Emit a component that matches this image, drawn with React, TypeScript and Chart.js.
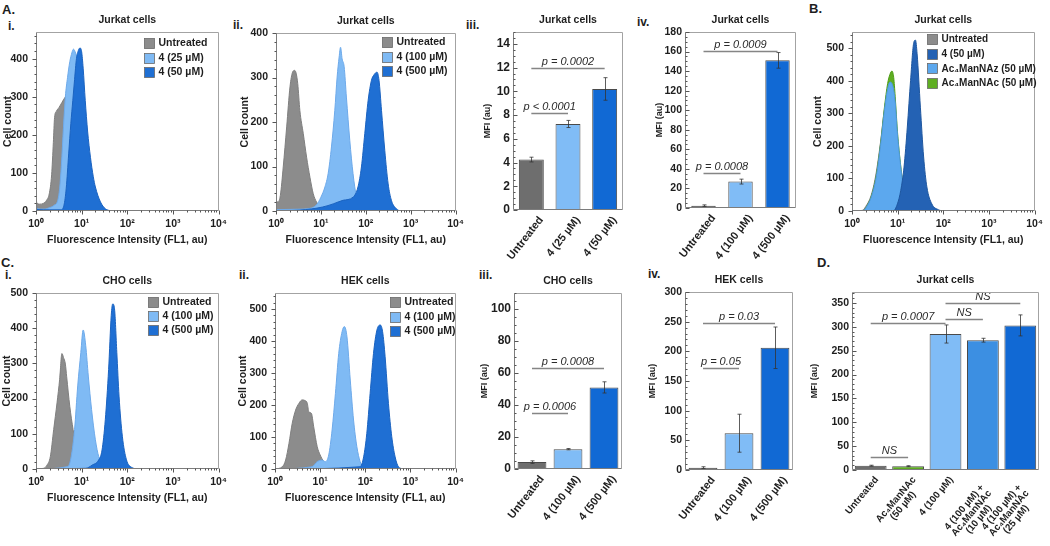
import React, { useEffect, useRef } from 'react';
import { Chart, registerables } from 'chart.js';

Chart.register(...registerables);

type Pt = [number, number];
type Sig = [number, number, number, string];

const FONT = "'Liberation Sans', Arial, Helvetica, sans-serif";
const INK = '#1e1e1e';

// ---------- shared axis texts ----------
const histYTitle = 'Cell count';
const histXTitle = 'Fluorescence Intensity (FL1, au)';
const barYTitle = 'MFI (au)';
const logTickValues = [1, 10, 100, 1000, 10000];
const logTickLabels = ['10⁰', '10¹', '10²', '10³', '10⁴'];

// ---------- A.i (Jurkat, histogram) ----------
const aiTitle = 'Jurkat cells';
const aiLabels = ['Untreated', '4 (25 µM)', '4 (50 µM)'];
const aiUntreated: Pt[] = [[1, 40], [1.04, 22], [1.2, 18], [1.45, 20], [1.7, 28], [1.95, 45], [2.2, 95], [2.4, 180], [2.55, 245], [2.8, 262], [3.2, 272], [3.7, 285], [4.3, 298], [4.9, 305], [5.8, 285], [7, 230], [8.5, 160], [10.5, 90], [13, 40], [17, 12], [24, 0]];
const ai25uM: Pt[] = [[1, 30], [1.04, 6], [1.5, 5], [2, 9], [2.5, 15], [3, 28], [3.3, 60], [3.6, 120], [4, 220], [4.4, 300], [4.9, 350], [5.5, 392], [6.1, 415], [6.6, 425], [7.2, 418], [8, 398], [9, 345], [10.3, 265], [12, 180], [14, 110], [17, 55], [22, 18], [30, 4], [40, 0]];
const ai50uM: Pt[] = [[1, 70], [1.04, 4], [2, 3], [3.5, 3], [4.1, 15], [4.6, 60], [5.2, 150], [5.8, 230], [6.4, 290], [7, 345], [7.7, 400], [8.5, 422], [9.2, 428], [10, 418], [10.8, 375], [12, 290], [13.5, 210], [15.6, 141], [18, 90], [20, 63], [25.8, 24], [33, 6], [45, 0]];

// ---------- A.ii (Jurkat, histogram) ----------
const aiiTitle = 'Jurkat cells';
const aiiLabels = ['Untreated', '4 (100 µM)', '4 (500 µM)'];
const aiiUntreated: Pt[] = [[1, 25], [1.1, 20], [1.25, 35], [1.45, 99], [1.73, 189], [2.05, 279], [2.34, 312], [2.6, 316], [2.8, 310], [3.05, 286], [3.4, 226], [4.05, 174], [4.8, 121], [5.7, 76], [6.75, 39], [8, 20], [9.5, 9], [12, 2], [15, 0]];
const aii100uM: Pt[] = [[1, 3], [3, 4], [5.7, 6], [8, 14], [10, 31], [12.3, 54], [14.5, 84], [17.2, 144], [20.4, 226], [23, 301], [25.5, 346], [27.4, 368], [29.7, 342], [33, 324], [37, 256], [44, 159], [52, 84], [62, 31], [73, 6], [85, 0]];
const aii500uM: Pt[] = [[1, 0], [3.4, 2], [11, 9], [18.8, 16], [31, 24], [52, 31], [67, 54], [80, 99], [95, 174], [113, 249], [134, 294], [150, 305], [178, 312], [197, 294], [224, 226], [265, 136], [315, 61], [372, 24], [480, 5], [570, 0]];

// ---------- A.iii (Jurkat, MFI) ----------
const aiiiTitle = 'Jurkat cells';
const aiiiCategories = ['Untreated', '4 (25 µM)', '4 (50 µM)'];
const aiiiMeans = [4.25, 7.25, 10.2];
const aiiiErrors = [0.2, 0.3, 0.95];
const aiiiSig: Sig[] = [[0, 1, 8.2, 'p < 0.0001'], [0, 2, 12.0, 'p = 0.0002']];

// ---------- A.iv (Jurkat, MFI) ----------
const aivTitle = 'Jurkat cells';
const aivCategories = ['Untreated', '4 (100 µM)', '4 (500 µM)'];
const aivMeans = [2.4, 27, 151];
const aivErrors = [0.8, 2.5, 8];
const aivSig: Sig[] = [[0, 1, 36, 'p = 0.0008'], [0, 2, 161, 'p = 0.0009']];

// ---------- B (Jurkat, histogram) ----------
const bTitle = 'Jurkat cells';
const bLabels = ['Untreated', '4 (50 µM)', 'Ac₄ManNAz (50 µM)', 'Ac₄ManNAc (50 µM)'];
const bUntreated: Pt[] = [[1, 0], [1.7, 2], [2.0, 14], [2.6, 46], [3.3, 108], [4.25, 215], [5.0, 300], [5.9, 362], [6.7, 383], [7.4, 378], [8.7, 318], [9.8, 222], [11.6, 122], [13.7, 56], [17.5, 17], [22.6, 5], [29, 0]];
const b50uM: Pt[] = [[1, 0], [8, 0], [9.9, 22], [11.7, 63], [13.8, 135], [16.3, 258], [19.2, 401], [22.6, 518], [24.6, 525], [26.7, 483], [31.5, 319], [37.1, 166], [43.7, 74], [56, 22], [78, 4], [100, 0]];
const bManNAz: Pt[] = [[1, 0], [1.8, 2], [2.07, 12], [2.65, 43], [3.39, 104], [4.35, 217], [5.13, 309], [6.04, 375], [6.79, 396], [7.5, 392], [8.84, 335], [9.9, 237], [11.7, 135], [13.8, 63], [17.7, 22], [22.6, 7], [29, 0]];
const bManNAc: Pt[] = [[1, 0], [1.8, 2], [2.07, 13], [2.65, 45], [3.39, 108], [4.35, 222], [5.13, 318], [6.04, 392], [6.79, 420], [7.5, 430], [8.2, 410], [8.84, 352], [9.9, 245], [11.7, 138], [13.8, 64], [17.7, 22], [22.6, 7], [29, 0]];

// ---------- C.i (CHO, histogram) ----------
const ciTitle = 'CHO cells';
const ciLabels = ['Untreated', '4 (100 µM)', '4 (500 µM)'];
const ciUntreated: Pt[] = [[1, 0], [1.47, 2], [1.74, 11], [2.06, 35], [2.44, 112], [2.89, 188], [3.3, 255], [3.7, 328], [4.0, 317], [4.4, 298], [4.7, 262], [5.5, 178], [6.5, 112], [7.6, 64], [9, 31], [11.5, 7], [14.7, 0]];
const ci100uM: Pt[] = [[1, 0], [5, 7], [5.9, 35], [7, 112], [8.2, 236], [9.6, 331], [10.8, 395], [12.3, 350], [14, 264], [16.5, 169], [20, 83], [23.7, 35], [30, 7], [39, 0]];
const ci500uM: Pt[] = [[1, 0], [12.3, 2], [17, 11], [23.7, 26], [28, 54], [33, 140], [39, 283], [44.5, 436], [48, 469], [52.5, 455], [59, 331], [66, 207], [78, 93], [96, 26], [123, 5], [172, 0]];

// ---------- C.ii (HEK, histogram) ----------
const ciiTitle = 'HEK cells';
const ciiLabels = ['Untreated', '4 (100 µM)', '4 (500 µM)'];
const ciiUntreated: Pt[] = [[1, 0], [1.45, 7], [1.72, 28], [2.04, 80], [2.41, 143], [2.86, 184], [3.38, 205], [4.0, 216], [4.6, 214], [5.2, 205], [5.6, 179], [6.4, 174], [7.2, 132], [8.6, 70], [10, 44], [12, 23], [14.3, 7], [16.9, 0]];
const cii100uM: Pt[] = [[1, 0], [6.6, 7], [8.6, 23], [11, 28], [13, 23], [15.5, 44], [18.4, 122], [21.8, 236], [25.8, 361], [30.6, 429], [34.4, 445], [39.3, 413], [46.5, 278], [55, 153], [65, 70], [77, 23], [92, 5], [108, 0]];
const cii500uM: Pt[] = [[1, 0], [77, 7], [92, 38], [108, 111], [128, 236], [152, 361], [181, 434], [215, 450], [242, 429], [275, 351], [326, 205], [386, 101], [458, 38], [543, 7], [700, 0]];

// ---------- C.iii (CHO, MFI) ----------
const ciiiTitle = 'CHO cells';
const ciiiCategories = ['Untreated', '4 (100 µM)', '4 (500 µM)'];
const ciiiMeans = [4.3, 12.4, 51];
const ciiiErrors = [0.8, 0.4, 3.5];
const ciiiSig: Sig[] = [[0, 1, 35, 'p = 0.0006'], [0, 2, 63, 'p = 0.0008']];

// ---------- C.iv (HEK, MFI) ----------
const civTitle = 'HEK cells';
const civCategories = ['Untreated', '4 (100 µM)', '4 (500 µM)'];
const civMeans = [4, 62, 206];
const civErrors = [1.5, 32, 35];
const civSig: Sig[] = [[0, 1, 172, 'p = 0.05'], [0, 2, 248, 'p = 0.03']];

// ---------- D (Jurkat, MFI) ----------
const dTitle = 'Jurkat cells';
const dCategories = [['Untreated'], ['Ac₄ManNAc', '(50 µM)'], ['4 (100 µM)'], ['4 (100 µM) +', 'Ac₄ManNAc', '(10 µM)'], ['4 (100 µM) +', 'Ac₄ManNAc', '(25 µM)']];
const dMeans = [9, 8, 285, 272, 303];
const dErrors = [1, 1, 19, 4, 22];
const dSig: Sig[] = [[0, 1, 27, 'NS'], [0, 2, 309, 'p = 0.0007'], [2, 3, 317, 'NS'], [2, 4, 350, 'NS']];

// ---------- colours ----------
const COL = {
  grayH: '#8c8c8c', grayHLine: '#7f7f7f',
  light: '#7fbaf4', lightLine: '#6eaaea',
  dark: '#1f6fd3', darkLine: '#1b63c0',
  navy: '#2462b4', navyLine: '#1f579f',
  az: '#5ca8ee', azLine: '#509ae0',
  green: '#5fae22', greenLine: '#4f9c18',
  grayBar: '#6e6e6e', lightBar: '#80bcf6', darkBar: '#1169d4', medBar: '#3c8fe2', greenBar: '#5ba820',
};

// ---------- decoration plugin ----------
interface LegendItem { label: string; color: string }
interface XLabelOpts { cats: (string | string[])[]; size: number; angle: number; lh: number; ox: number; oy: number; multiShift: number }
interface Deco {
  title: string;
  inward: boolean;
  yStep: number;
  yMinor: number;
  logX?: boolean;
  legend?: { dx: number; dy: number; row: number; size: number; items: LegendItem[] };
  errors?: number[];
  sig?: Sig[];
  xLabels?: XLabelOpts;
}

function makeDeco(o: Deco) {
  return {
    id: 'deco',
    afterDatasetsDraw(chart: any) {
      const { ctx, chartArea: a, scales } = chart;
      const xs = scales.x;
      const ys = scales.y;
      const L = Math.round(a.left) + 0.5;
      const R = Math.round(a.right) - 0.5;
      const T = Math.round(a.top) + 0.5;
      const B = Math.round(a.bottom) - 0.5;
      const seg = (x1: number, y1: number, x2: number, y2: number) => {
        ctx.beginPath();
        ctx.moveTo(x1, y1);
        ctx.lineTo(x2, y2);
        ctx.stroke();
      };
      ctx.save();

      if (o.errors) {
        const meta = chart.getDatasetMeta(0);
        const vals = chart.data.datasets[0].data as number[];
        ctx.strokeStyle = '#333';
        ctx.lineWidth = 0.8;
        o.errors.forEach((e, i) => {
          const bx = Math.round(meta.data[i].x) + 0.5;
          const yt = ys.getPixelForValue(vals[i] + e);
          const yb = ys.getPixelForValue(Math.max(0, vals[i] - e));
          seg(bx, yt, bx, yb);
          seg(bx - 2, yt, bx + 2, yt);
          seg(bx - 2, yb, bx + 2, yb);
        });
      }

      if (o.sig) {
        const meta = chart.getDatasetMeta(0);
        o.sig.forEach(([i, j, v, text]) => {
          const x1 = meta.data[i].x;
          const x2 = meta.data[j].x;
          const py = Math.round(ys.getPixelForValue(v)) + 0.5;
          ctx.strokeStyle = '#858585';
          ctx.lineWidth = 1.4;
          seg(x1, py, x2, py);
          ctx.fillStyle = '#2a2a2a';
          ctx.font = `italic 11px ${FONT}`;
          ctx.textAlign = 'center';
          ctx.textBaseline = 'alphabetic';
          ctx.fillText(text, (x1 + x2) / 2, py - 4);
        });
      }

      // category labels (rotated, lines centred)
      if (o.xLabels) {
        const xl = o.xLabels;
        const meta = chart.getDatasetMeta(0);
        const rad = (xl.angle * Math.PI) / 180;
        ctx.fillStyle = INK;
        ctx.font = `bold ${xl.size}px ${FONT}`;
        ctx.textAlign = 'center';
        ctx.textBaseline = 'middle';
        xl.cats.forEach((c, i) => {
          const lines = Array.isArray(c) ? c : [c];
          const w = Math.max(...lines.map((l) => ctx.measureText(l).width));
          const back = Math.max(0, lines.length - 2) * xl.multiShift;
          ctx.save();
          ctx.translate(meta.data[i].x + xl.ox, a.bottom + xl.oy);
          ctx.rotate(-rad);
          lines.forEach((l, k) => ctx.fillText(l, -w / 2 - back, k * xl.lh));
          ctx.restore();
        });
      }

      // frame
      ctx.lineWidth = 1;
      ctx.strokeStyle = '#a3a3a3';
      seg(L, T, R, T);
      seg(R, T, R, B);
      ctx.strokeStyle = '#7c7c7c';
      seg(L, T, L, B);
      seg(L, B, R, B);

      // y ticks (major + minor)
      const dir = o.inward ? 1 : -1;
      ctx.strokeStyle = '#555';
      const n = Math.round(ys.max / o.yMinor);
      for (let k = 0; k <= n; k++) {
        const v = k * o.yMinor;
        if (v > ys.max + 1e-9) break;
        const r = v / o.yStep;
        const major = Math.abs(r - Math.round(r)) < 1e-6;
        const py = Math.round(ys.getPixelForValue(v)) + 0.5;
        seg(L, py, L + dir * (major ? 4 : 2), py);
      }

      // log x ticks
      if (o.logX) {
        xs.ticks.forEach((t: any) => {
          const v = t.value;
          const p = Math.pow(10, Math.floor(Math.log10(v) + 1e-9));
          const mant = v / p;
          if (Math.abs(mant - Math.round(mant)) > 1e-6) return;
          const major = logTickValues.some((m) => Math.abs(m - v) < m * 1e-6);
          const px = Math.round(xs.getPixelForValue(v)) + 0.5;
          seg(px, B, px, B + (major ? 4 : 2));
        });
      }

      // title
      ctx.fillStyle = INK;
      ctx.font = `bold 10.5px ${FONT}`;
      ctx.textAlign = 'center';
      ctx.textBaseline = 'middle';
      ctx.fillText(o.title, (a.left + a.right) / 2, a.top - 12);

      // legend
      if (o.legend) {
        const lg = o.legend;
        lg.items.forEach((it, i) => {
          const cy = a.top + lg.dy + i * lg.row;
          const bx = Math.round(a.left + lg.dx) + 0.5;
          const by = Math.round(cy - 5) + 0.5;
          ctx.fillStyle = it.color;
          ctx.fillRect(bx, by, 10, 10);
          ctx.strokeStyle = '#6a6a6a';
          ctx.lineWidth = 0.8;
          ctx.strokeRect(bx, by, 10, 10);
          ctx.fillStyle = INK;
          ctx.font = `bold ${lg.size}px ${FONT}`;
          ctx.textAlign = 'left';
          ctx.textBaseline = 'middle';
          ctx.fillText(it.label, bx + 14, cy + 0.5);
        });
      }
      ctx.restore();
    },
  };
}

// ---------- histogram panel ----------
interface HistSeries { label: string; data: Pt[]; color: string; line: string; order: number }
interface HistCfg {
  plot: [number, number, number, number];
  wy: number;
  yTitlePad: number;
  yMax: number;
  yStep: number;
  yMinor: number;
  title: string;
  legend: [number, number, number, number];
  series: HistSeries[];
}

function Histogram({ cfg }: { cfg: HistCfg }) {
  const ref = useRef<HTMLCanvasElement>(null);
  const [L, T, R, B] = cfg.plot;
  const padT = 26, padR = 12, hx = 40, padB = 2;
  const left = L - cfg.wy;
  const top = T - padT;
  const width = cfg.wy + (R - L) + padR;
  const height = padT + (B - T) + hx + padB;

  useEffect(() => {
    const deco = makeDeco({
      title: cfg.title,
      inward: false,
      yStep: cfg.yStep,
      yMinor: cfg.yMinor,
      logX: true,
      legend: {
        dx: cfg.legend[0], dy: cfg.legend[1], row: cfg.legend[2], size: cfg.legend[3],
        items: cfg.series.map((s) => ({ label: s.label, color: s.color })),
      },
    });
    const chart = new Chart(ref.current as HTMLCanvasElement, {
      type: 'line',
      data: {
        datasets: cfg.series.map((s) => ({
          label: s.label,
          data: s.data.map(([x, y]) => ({ x, y })),
          backgroundColor: s.color,
          borderColor: s.line,
          borderWidth: 1,
          pointRadius: 0,
          fill: 'origin',
          cubicInterpolationMode: 'monotone',
          order: s.order,
        })),
      } as any,
      options: {
        responsive: false,
        animation: false,
        devicePixelRatio: 1,
        events: [],
        layout: { padding: { left: 0, top: padT, right: padR, bottom: padB } },
        plugins: { legend: { display: false }, title: { display: false }, tooltip: { enabled: false } },
        scales: {
          x: {
            type: 'logarithmic',
            min: 1,
            max: 10000,
            grid: { display: false, drawTicks: false },
            border: { display: false },
            afterFit: (s: any) => { s.height = hx; },
            ticks: {
              autoSkip: false,
              maxRotation: 0,
              minRotation: 0,
              padding: 7,
              color: INK,
              font: { family: FONT, size: 10.5, weight: 'bold' },
              callback: (v: any) => {
                const idx = logTickValues.findIndex((m) => Math.abs(m - Number(v)) < m * 1e-6);
                return idx >= 0 ? logTickLabels[idx] : '';
              },
            },
            title: {
              display: true,
              text: histXTitle,
              color: INK,
              font: { family: FONT, size: 10.5, weight: 'bold' },
              padding: { top: 0, bottom: 5 },
            },
          },
          y: {
            min: 0,
            max: cfg.yMax,
            grid: { display: false, drawTicks: false },
            border: { display: false },
            afterFit: (s: any) => { s.width = cfg.wy; },
            ticks: {
              stepSize: cfg.yStep,
              includeBounds: false,
              padding: 8,
              color: INK,
              font: { family: FONT, size: 10.5, weight: 'bold' },
            },
            title: {
              display: true,
              text: histYTitle,
              color: INK,
              font: { family: FONT, size: 10.5, weight: 'bold' },
              padding: { top: cfg.yTitlePad, bottom: 0 },
            },
          },
        },
      } as any,
      plugins: [deco as any],
    });
    return () => chart.destroy();
  }, []);

  return (
    <canvas
      ref={ref}
      width={width}
      height={height}
      style={{ position: 'absolute', left, top, width, height }}
    />
  );
}

// ---------- bar panel ----------
interface BarCfg {
  plot: [number, number, number, number];
  wy: number;
  hx: number;
  padR: number;
  yMax: number;
  yStep: number;
  yMinor: number;
  tickSize: number;
  title: string;
  categories: (string | string[])[];
  means: number[];
  errors: number[];
  colors: string[];
  sig: Sig[];
  barPct: number;
  label: { size: number; angle: number; lh: number; ox: number; oy: number; multiShift: number };
}

function BarPanel({ cfg }: { cfg: BarCfg }) {
  const ref = useRef<HTMLCanvasElement>(null);
  const [L, T, R, B] = cfg.plot;
  const padT = 26, padB = 0;
  const left = L - cfg.wy;
  const top = T - padT;
  const width = cfg.wy + (R - L) + cfg.padR;
  const height = padT + (B - T) + cfg.hx + padB;

  useEffect(() => {
    const deco = makeDeco({
      title: cfg.title,
      inward: true,
      yStep: cfg.yStep,
      yMinor: cfg.yMinor,
      errors: cfg.errors,
      sig: cfg.sig,
      xLabels: { cats: cfg.categories, ...cfg.label },
    });
    const chart = new Chart(ref.current as HTMLCanvasElement, {
      type: 'bar',
      data: {
        labels: cfg.categories,
        datasets: [{
          data: cfg.means,
          backgroundColor: cfg.colors,
          borderColor: '#4a4a4a',
          borderWidth: 1,
          categoryPercentage: 1,
          barPercentage: cfg.barPct,
        }],
      } as any,
      options: {
        responsive: false,
        animation: false,
        devicePixelRatio: 1,
        events: [],
        layout: { padding: { left: 0, top: padT, right: cfg.padR, bottom: padB } },
        plugins: { legend: { display: false }, title: { display: false }, tooltip: { enabled: false } },
        scales: {
          x: {
            type: 'category',
            grid: { display: false, drawTicks: false },
            border: { display: false },
            afterFit: (s: any) => { s.height = cfg.hx; },
            ticks: { display: false },
          },
          y: {
            min: 0,
            max: cfg.yMax,
            grid: { display: false, drawTicks: false },
            border: { display: false },
            afterFit: (s: any) => { s.width = cfg.wy; },
            ticks: {
              stepSize: cfg.yStep,
              includeBounds: false,
              padding: 3,
              color: INK,
              font: { family: FONT, size: cfg.tickSize, weight: 'bold' },
            },
            title: {
              display: true,
              text: barYTitle,
              color: INK,
              font: { family: FONT, size: 9, weight: 'bold' },
              padding: { top: 2.5, bottom: 0 },
            },
          },
        },
      } as any,
      plugins: [deco as any],
    });
    return () => chart.destroy();
  }, []);

  return (
    <canvas
      ref={ref}
      width={width}
      height={height}
      style={{ position: 'absolute', left, top, width, height }}
    />
  );
}

// ---------- panel configs ----------
const histAi: HistCfg = {
  plot: [36, 32, 222, 211], wy: 36, yTitlePad: 2, yMax: 470, yStep: 100, yMinor: 20,
  title: aiTitle, legend: [108, 11, 14.5, 10.5],
  series: [
    { label: aiLabels[0], data: aiUntreated, color: COL.grayH, line: COL.grayHLine, order: 2 },
    { label: aiLabels[1], data: ai25uM, color: COL.light, line: COL.lightLine, order: 1 },
    { label: aiLabels[2], data: ai50uM, color: COL.dark, line: COL.darkLine, order: 0 },
  ],
};
const histAii: HistCfg = {
  plot: [276, 33, 459, 211], wy: 39, yTitlePad: 2, yMax: 400, yStep: 100, yMinor: 20,
  title: aiiTitle, legend: [106, 9, 14.5, 10.5],
  series: [
    { label: aiiLabels[0], data: aiiUntreated, color: COL.grayH, line: COL.grayHLine, order: 2 },
    { label: aiiLabels[1], data: aii100uM, color: COL.light, line: COL.lightLine, order: 1 },
    { label: aiiLabels[2], data: aii500uM, color: COL.dark, line: COL.darkLine, order: 0 },
  ],
};
const histB: HistCfg = {
  plot: [852, 32, 1038, 211], wy: 45, yTitlePad: 5, yMax: 550, yStep: 100, yMinor: 20,
  title: bTitle, legend: [75, 7, 14.7, 10],
  series: [
    { label: bLabels[0], data: bUntreated, color: COL.grayH, line: COL.grayHLine, order: 3 },
    { label: bLabels[1], data: b50uM, color: COL.navy, line: COL.navyLine, order: 0 },
    { label: bLabels[2], data: bManNAz, color: COL.az, line: COL.azLine, order: 1 },
    { label: bLabels[3], data: bManNAc, color: COL.green, line: COL.greenLine, order: 2 },
  ],
};
const histCi: HistCfg = {
  plot: [36, 293, 222, 469], wy: 36, yTitlePad: 1, yMax: 500, yStep: 100, yMinor: 20,
  title: ciTitle, legend: [112, 9, 14, 10.5],
  series: [
    { label: ciLabels[0], data: ciUntreated, color: COL.grayH, line: COL.grayHLine, order: 2 },
    { label: ciLabels[1], data: ci100uM, color: COL.light, line: COL.lightLine, order: 1 },
    { label: ciLabels[2], data: ci500uM, color: COL.dark, line: COL.darkLine, order: 0 },
  ],
};
const histCii: HistCfg = {
  plot: [275, 293, 459, 469], wy: 40, yTitlePad: 2, yMax: 550, yStep: 100, yMinor: 20,
  title: ciiTitle, legend: [115, 9, 14.5, 10.5],
  series: [
    { label: ciiLabels[0], data: ciiUntreated, color: COL.grayH, line: COL.grayHLine, order: 2 },
    { label: ciiLabels[1], data: cii100uM, color: COL.light, line: COL.lightLine, order: 1 },
    { label: ciiLabels[2], data: cii500uM, color: COL.dark, line: COL.darkLine, order: 0 },
  ],
};

const acLabel = { size: 11, angle: 52, lh: 11, ox: 10, oy: 8, multiShift: 0 };

const barAiii: BarCfg = {
  plot: [513, 32, 623, 210], wy: 33, hx: 58, padR: 6, yMax: 15, yStep: 2, yMinor: 0.5, tickSize: 12,
  title: aiiiTitle, categories: aiiiCategories, means: aiiiMeans, errors: aiiiErrors,
  colors: [COL.grayBar, COL.lightBar, COL.darkBar], sig: aiiiSig, barPct: 0.68, label: acLabel,
};
const barAiv: BarCfg = {
  plot: [685, 32, 796, 208], wy: 33, hx: 60, padR: 6, yMax: 180, yStep: 20, yMinor: 5, tickSize: 10.5,
  title: aivTitle, categories: aivCategories, means: aivMeans, errors: aivErrors,
  colors: [COL.grayBar, COL.lightBar, COL.darkBar], sig: aivSig, barPct: 0.66, label: acLabel,
};
const barCiii: BarCfg = {
  plot: [514, 293, 622, 469], wy: 37, hx: 70, padR: 6, yMax: 110, yStep: 20, yMinor: 5, tickSize: 12,
  title: ciiiTitle, categories: ciiiCategories, means: ciiiMeans, errors: ciiiErrors,
  colors: [COL.grayBar, COL.lightBar, COL.darkBar], sig: ciiiSig, barPct: 0.8, label: acLabel,
};
const barCiv: BarCfg = {
  plot: [685, 292, 793, 470], wy: 40, hx: 70, padR: 6, yMax: 300, yStep: 50, yMinor: 10, tickSize: 10.5,
  title: civTitle, categories: civCategories, means: civMeans, errors: civErrors,
  colors: [COL.grayBar, COL.lightBar, COL.darkBar], sig: civSig, barPct: 0.8, label: acLabel,
};
const barD: BarCfg = {
  plot: [852, 292, 1039, 470], wy: 45, hx: 76, padR: 11, yMax: 373, yStep: 50, yMinor: 10, tickSize: 10.5,
  title: dTitle, categories: dCategories, means: dMeans, errors: dErrors,
  colors: [COL.grayBar, COL.greenBar, COL.lightBar, COL.medBar, COL.darkBar], sig: dSig, barPct: 0.85,
  label: { size: 9.8, angle: 50, lh: 9.4, ox: 6, oy: 8, multiShift: 10 },
};

const panelTags: [string, number, number, number][] = [
  ['A.', 2, 3, 13], ['i.', 8, 20, 12], ['ii.', 233, 19, 12], ['iii.', 466, 19, 12], ['iv.', 637, 16, 12], ['B.', 809, 2, 13],
  ['C.', 1, 256, 13], ['i.', 5, 269, 12], ['ii.', 239, 269, 12], ['iii.', 479, 269, 12], ['iv.', 648, 268, 12], ['D.', 817, 256, 13],
];

export default function App() {
  return (
    <div
      style={{
        position: 'absolute', left: 0, top: 0, width: 1050, height: 546,
        background: '#ffffff', overflow: 'hidden', fontFamily: FONT,
      }}
    >
      {panelTags.map(([t, x, y, s], i) => (
        <div
          key={i}
          style={{ position: 'absolute', left: x, top: y, fontSize: s, fontWeight: 'bold', lineHeight: 1, color: INK }}
        >
          {t}
        </div>
      ))}
      <Histogram cfg={histAi} />
      <Histogram cfg={histAii} />
      <BarPanel cfg={barAiii} />
      <BarPanel cfg={barAiv} />
      <Histogram cfg={histB} />
      <Histogram cfg={histCi} />
      <Histogram cfg={histCii} />
      <BarPanel cfg={barCiii} />
      <BarPanel cfg={barCiv} />
      <BarPanel cfg={barD} />
    </div>
  );
}
